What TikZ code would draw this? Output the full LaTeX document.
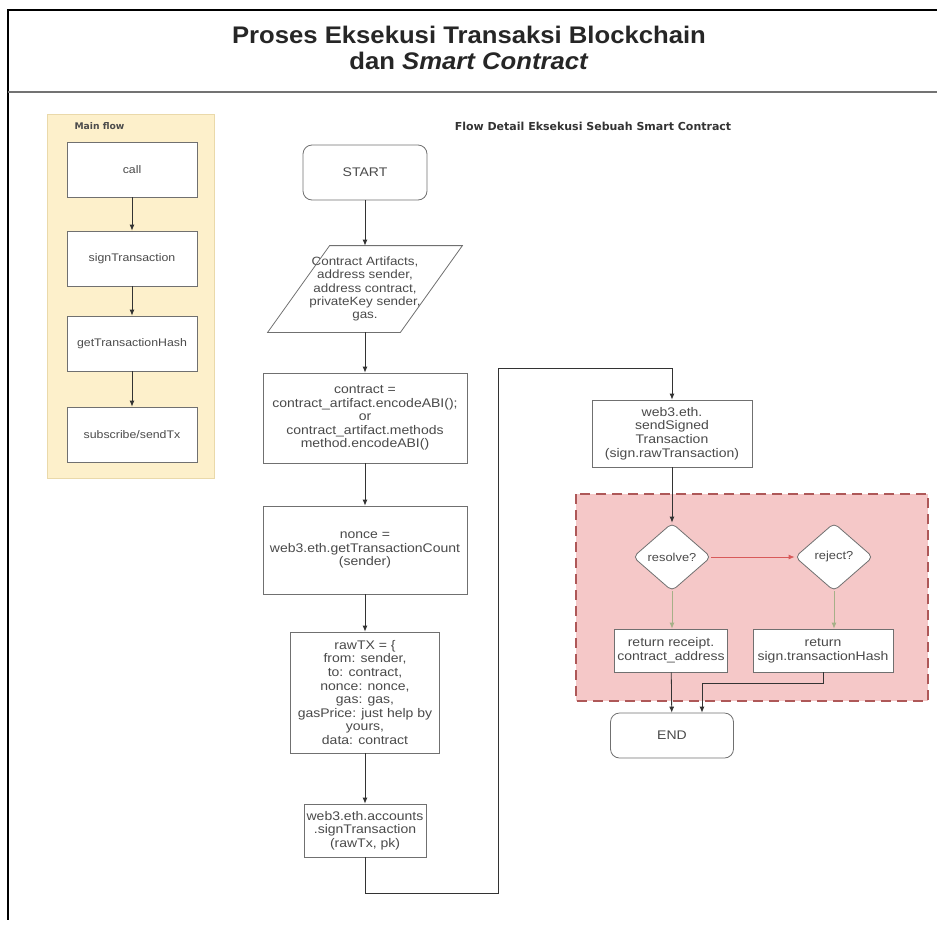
\documentclass[tikz,border=0pt]{standalone}
\usepackage{fontspec}
\setmainfont{Liberation Sans}[FakeStretch=1.12]
\newfontfamily\titlefont{Liberation Sans}[FakeStretch=1.07]
\newfontfamily\labelfont{DejaVu Sans}
\usetikzlibrary{arrows.meta,shapes.geometric,calc}

\definecolor{boxline}{HTML}{707070}
\definecolor{boxtext}{HTML}{4A4A4A}
\definecolor{mainfill}{HTML}{FDF0CB}
\definecolor{mainline}{HTML}{EAD9AA}
\definecolor{groupfill}{HTML}{F5C8C8}
\definecolor{groupline}{HTML}{AE5858}
\definecolor{okline}{HTML}{A6B088}
\definecolor{failline}{HTML}{D85A5A}

\tikzset{
  flowbox/.style={draw=boxline, fill=white, thick, text=boxtext, align=center, inner sep=1pt},
  termbox/.style={flowbox, rounded corners=9pt},
  decision/.style={diamond, draw=boxline, fill=white, thick, text=boxtext, inner sep=0pt, rounded corners=5pt}
}

\begin{document}
\begin{tikzpicture}[x=1pt, y=-1pt, >={Latex[length=6pt,width=5pt]}]
    \useasboundingbox (0,0) rectangle (937,927);

    % page frame and title
    \draw[line width=2pt] (937,10) -- (8,10) -- (8,920);
    \draw[line width=2.5pt, black!55] (8,92) -- (937,92);
    \node (T_1) at (469,48) [align=center, text=black!85,
        font=\titlefont\fontsize{24}{26}\selectfont\bfseries]
        {Proses Eksekusi Transaksi Blockchain\\dan \textit{Smart Contract}};

    % main flow
    \draw[fill=mainfill, draw=mainline, thick] (47,114) rectangle (214,478);
    \node (M_0) at (71,126) [anchor=west, text=black!70, font=\labelfont\fontsize{9.2}{10}\selectfont\bfseries] {Main flow};
    \begin{scope}[every node/.style={flowbox, minimum width=130pt, minimum height=55pt, font=\fontsize{11}{12}\selectfont}]
        \node (M_1) at (132,169.5) {call};
        \node (M_2) at (132,258.5) {signTransaction};
        \node (M_3) at (132,343.5) {getTransactionHash};
        \node (M_4) at (132,434.5) {subscribe/sendTx};
    \end{scope}

    \begin{scope}[every edge/.style={draw=black!80, thick}]
        \path[->] (M_1) edge (M_2);
        \path[->] (M_2) edge (M_3);
        \path[->] (M_3) edge (M_4);
    \end{scope}

    % detail flow
    \node (F_0) at (593,126) [text=black!80, font=\labelfont\fontsize{11}{12}\selectfont\bfseries]
        {Flow Detail Eksekusi Sebuah Smart Contract};

    \draw[fill=groupfill, draw=groupline, line width=2.5pt, dash pattern=on 10pt off 6pt]
        (576,494) rectangle (928,701);

    \begin{scope}[every node/.style={flowbox, font=\fontsize{12.5}{13.6}\selectfont}]
        \node[termbox, minimum width=124pt, minimum height=55pt] (D_1) at (365,172.5) {START};
        \node[draw=none, fill=none, minimum width=194pt, minimum height=86pt, font=\fontsize{12}{13.4}\selectfont] (D_2) at (365,289)
            {Contract Artifacts,\\address sender,\\address contract,\\privateKey sender,\\gas.};
        \node[minimum width=204pt, minimum height=90pt, inner xsep=0pt] (D_3) at (365,418)
            {contract =\\contract\_artifact.encodeABI();\\or\\contract\_artifact.methods\\method.encodeABI()};
        \node[minimum width=204pt, minimum height=88pt, inner xsep=0pt] (D_4) at (365,550)
            {nonce =\\web3.eth.getTransactionCount\\(sender)};
        \node[minimum width=149pt, minimum height=121pt] (D_5) at (365,692.5)
            {rawTX = \{\\from: sender,\\to: contract,\\nonce: nonce,\\gas: gas,\\gasPrice: just help by\\yours,\\data: contract};
        \node[minimum width=122pt, minimum height=53pt] (D_6) at (365,830.5)
            {web3.eth.accounts\\.signTransaction\\(rawTx, pk)};
        \node[minimum width=160pt, minimum height=67pt] (D_7) at (672,433.5)
            {web3.eth.\\sendSigned\\Transaction\\(sign.rawTransaction)};
        \node[decision, minimum width=78pt, minimum height=68pt, font=\fontsize{11.5}{12}\selectfont] (D_8) at (672,557) {resolve?};
        \node[decision, minimum width=78pt, minimum height=68pt, font=\fontsize{11.5}{12}\selectfont] (D_9) at (834,557) {reject?};
        \node[minimum width=113pt, minimum height=43pt, inner xsep=0pt] (D_10) at (671,650.5)
            {return receipt.\\contract\_address};
        \node[minimum width=140pt, minimum height=43pt] (D_11) at (823,650.5)
            {return\\sign.transactionHash};
        \node[termbox, minimum width=123pt, minimum height=45pt] (D_12) at (672,735.5) {END};
    \end{scope}

    % parallelogram round the input node
    \draw[draw=boxline, thick] (D_2.south west) -- ($(D_2.south east)+(-62,0)$)
        -- (D_2.north east) -- ($(D_2.north west)+(62,0)$) -- cycle;

    \coordinate (C_1) at (498,893);
    \coordinate (C_2) at (498,368);
    \coordinate (C_3) at (702,683);

    \begin{scope}[every edge/.style={draw=black!80, thick}]
        \path[->] (D_1) edge (D_2);
        \path[->] (D_2) edge (D_3);
        \path[->] (D_3) edge (D_4);
        \path[->] (D_4) edge (D_5);
        \path[->] (D_5) edge (D_6);
        \path[->] (D_7) edge (D_8);
        \path[->] (D_10) edge (D_12);
    \end{scope}
    \draw[->, draw=black!80, thick] (D_6) |- (C_1) -- (C_2) -| (D_7);
    \draw[->, draw=black!80, thick] (D_11.south) |- (C_3) -- (C_3 |- D_12.north);

    \draw[->, draw=failline, thick] (D_8) -- (D_9);
    \draw[->, draw=okline, thick] (D_8) -- (D_8 |- D_10.north);
    \draw[->, draw=okline, thick] (D_9) -- (D_9 |- D_11.north);
\end{tikzpicture}
\end{document}
